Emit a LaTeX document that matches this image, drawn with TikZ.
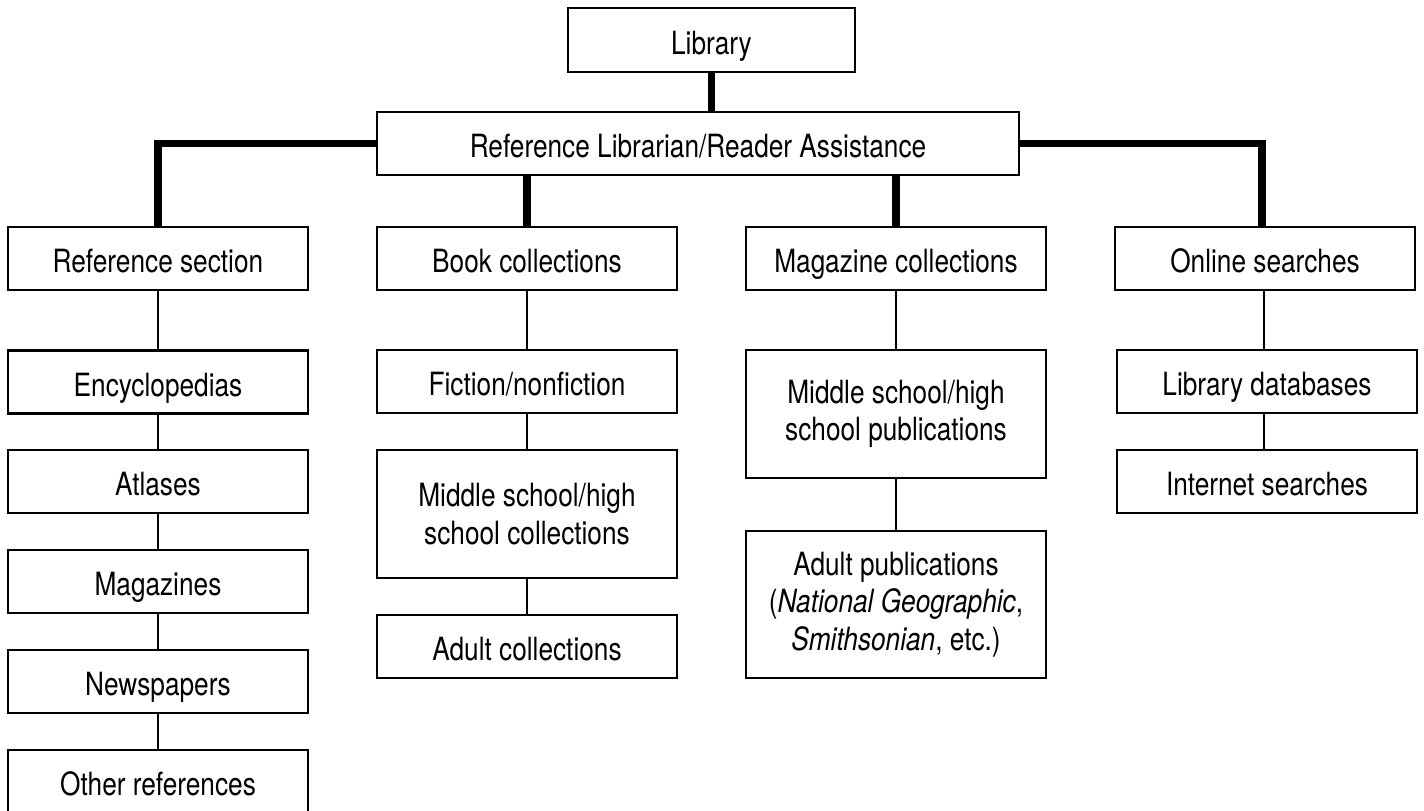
\documentclass[tikz,border=0pt]{standalone}
\usepackage{fontspec}
\setmainfont{TeX Gyre Heros}[FakeStretch=0.82]
\begin{document}
\begin{tikzpicture}[x=1pt,y=-1pt,
  box/.style={draw=black,line width=2.7pt,fill=white,inner sep=0pt,align=center,
    minimum width=300pt,minimum height=63pt,font=\fontsize{32}{37.5}\selectfont},
  one/.style={box,text height=30pt,text depth=2pt},
  thin/.style={line width=2.7pt},
  thick/.style={line width=7.5pt,line join=miter}]
\useasboundingbox (0,0) rectangle (1424,811);
% top
\node[one,minimum width=287pt,minimum height=64pt] (lib) at (711.5,40) {Library};
\node[one,minimum width=642pt] (ref) at (698,143.5) {Reference Librarian/Reader Assistance};
% level 1
\node[one] (rs) at (158,258.5) {Reference section};
\node[one] (bc) at (527,258.5) {Book collections};
\node[one] (mc) at (896,258.5) {Magazine collections};
\node[one] (os) at (1265,258.5) {Online searches};
% reference section column
\node[one] (enc) at (158,382) {Encyclopedias};
\node[one] (atl) at (158,481.5) {Atlases};
\node[one] (mag) at (158,581.5) {Magazines};
\node[one] (news) at (158,681.5) {Newspapers};
\node[one] (oth) at (158,781.5) {Other references};
% book column
\node[one] (fic) at (527,381.5) {Fiction/nonfiction};
\node[box,minimum height=128pt] (mshc) at (527,514) {Middle school/high\\school collections};
\node[one] (adc) at (527,646.5) {Adult collections};
% magazine column
\node[box,minimum height=128pt] (mshp) at (896,414) {Middle school/high\\school publications};
\node[box,minimum height=147pt] (adp) at (896,604.5) {Adult publications\\(\textit{National Geographic},\\\textit{Smithsonian}, etc.)};
% online column
\node[one] (ldb) at (1267,381.5) {Library databases};
\node[one] (inet) at (1267,481.5) {Internet searches};
% thick connectors
\draw[thick] (lib.south) -- (ref.north -| lib.south);
\draw[thick] (ref.west) -| (rs.north);
\draw[thick] (ref.east) -| ([xshift=-3pt]os.north);
\draw[thick] (bc.north) -- (bc.north |- ref.south);
\draw[thick] (mc.north) -- (mc.north |- ref.south);
% thin connectors
\draw[thin] (rs.south) -- (enc.north);
\draw[thin] (enc.south) -- (atl.north);
\draw[thin] (atl.south) -- (mag.north);
\draw[thin] (mag.south) -- (news.north);
\draw[thin] (news.south) -- (oth.north);
\draw[thin] (bc.south) -- (fic.north);
\draw[thin] (fic.south) -- (mshc.north);
\draw[thin] (mshc.south) -- (adc.north);
\draw[thin] (mc.south) -- (mshp.north);
\draw[thin] (mshp.south) -- (adp.north);
\draw[thin] ([xshift=-1pt]os.south) -- ([xshift=-1pt]os.south |- ldb.north);
\draw[thin] ([xshift=-3pt]ldb.south) -- ([xshift=-3pt]inet.north);
\end{tikzpicture}
\end{document}
